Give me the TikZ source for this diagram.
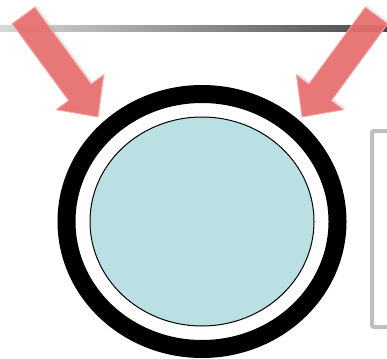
\documentclass[tikz,border=0pt]{standalone}
\usetikzlibrary{shadows}
\definecolor{ringfill}{RGB}{187,224,227}
\definecolor{arrowred}{RGB}{232,110,110}
\definecolor{arrowlight}{RGB}{246,170,170}
\definecolor{boxgray}{RGB}{191,191,191}
\tikzset{
  redarrow/.style={fill=arrowred, fill opacity=0.92, draw=arrowlight, line width=0.8pt, line join=miter,
    drop shadow={shadow xshift=1.5pt, shadow yshift=2pt, opacity=0.18}},
}
\begin{document}
\begin{tikzpicture}[x=1pt,y=-1pt]
\useasboundingbox (0,0) rectangle (387,358);
\clip (0,0) rectangle (387,358);
% gradient rule
\shade[left color=black!15, right color=black!72] (0,26) rectangle (387,32);
% right box
\draw[boxgray, line width=4pt, rounded corners=2pt] (372,131) rectangle (400,327);
% outer ring
\draw[black, line width=18pt] (202,221.5) ellipse [x radius=135.5, y radius=127.5];
% inner ellipse
\draw[black, line width=1pt, fill=ringfill] (202,221.5) ellipse [x radius=112, y radius=104.5];
% arrows
\path[redarrow] (12.2,23.8) -- (34.8,7.2) -- (91.2,84.0) -- (103.6,74.9) -- (98,117) -- (56.2,109.7) -- (68.6,100.6) -- cycle;
\path[redarrow] (387.8,23.8) -- (365.2,7.2) -- (308.8,84.0) -- (296.4,74.9) -- (302,117) -- (343.8,109.7) -- (331.4,100.6) -- cycle;
\end{tikzpicture}
\end{document}
